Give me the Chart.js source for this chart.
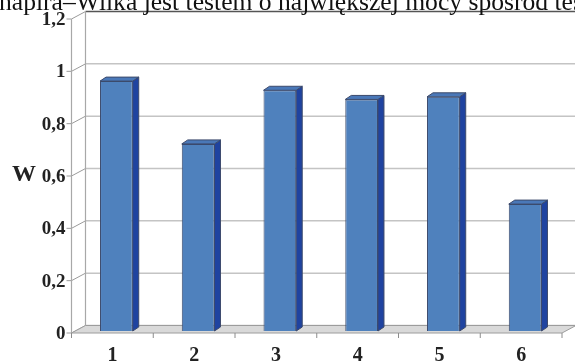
<!DOCTYPE html>
<html lang="pl">
<head>
  <meta charset="UTF-8">
  <title>W – wykres słupkowy</title>
  <style>
    html, body {
      margin: 0;
      padding: 0;
      background: #ffffff;
    }
    #wrap {
      position: relative;
      width: 575px;
      height: 363px;
      overflow: hidden;
    }
  </style>
</head>
<body>
  <div id="wrap">
    <canvas id="chart"></canvas>
  </div>

  <script src="https://cdn.jsdelivr.net/npm/chart.js"></script>
  <script>
    // data
    const categories = ['1', '2', '3', '4', '5', '6'];
    const wValues = [0.955, 0.715, 0.92, 0.885, 0.895, 0.485];
    const yTicks = [0, 0.2, 0.4, 0.6, 0.8, 1, 1.2];
    const headerText = 'napira–Wilka jest testem o największej mocy spośród testów';
    const axisTitle = 'W';

    // 3d look: offsets from the bar plane
    const FRONT = { x: -4, y: 2 };
    const BACK = { x: 10, y: -5.5 };
    const BAR_DEPTH = { x: 6, y: -4 };

    function fmtTick(v) {
      const r = Math.round(v * 10) / 10;
      if (r === 0 || r === 1) return String(r);
      return r.toFixed(1).replace('.', ',');
    }

    const pseudo3d = {
      id: 'pseudo3d',
      beforeDatasetsDraw(chart) {
        const ctx = chart.ctx;
        const xs = chart.scales.x;
        const ys = chart.scales.y;
        const y0 = ys.getPixelForValue(0);
        const yTop = ys.getPixelForValue(yTicks[yTicks.length - 1]);
        const catW = (xs.right - xs.left) / categories.length;
        const fLeft = xs.left + FRONT.x, fRight = xs.right + FRONT.x;
        const bLeft = xs.left + BACK.x;
        const W = chart.width;

        ctx.save();
        // back wall gridlines + side wall ticks
        yTicks.forEach((v, i) => {
          const y = ys.getPixelForValue(v);
          const isTop = i === yTicks.length - 1;
          ctx.lineWidth = 1.5;
          ctx.strokeStyle = isTop ? '#555555' : '#c4c4c4';
          ctx.beginPath();
          ctx.moveTo(bLeft, y + BACK.y);
          ctx.lineTo(W, y + BACK.y);
          ctx.stroke();
          ctx.strokeStyle = '#9a9a9a';
          ctx.lineWidth = 1;
          ctx.beginPath();
          ctx.moveTo(fLeft - 5, y + FRONT.y);
          ctx.lineTo(fLeft, y + FRONT.y);
          ctx.lineTo(bLeft, y + BACK.y);
          ctx.stroke();
        });

        // left wall verticals
        ctx.strokeStyle = '#a8a8a8';
        ctx.lineWidth = 1.2;
        ctx.beginPath();
        ctx.moveTo(bLeft, y0 + BACK.y);
        ctx.lineTo(bLeft, yTop + BACK.y);
        ctx.moveTo(fLeft, y0 + FRONT.y);
        ctx.lineTo(fLeft, yTop + FRONT.y);
        ctx.stroke();

        // floor
        ctx.fillStyle = '#d9d9d9';
        ctx.strokeStyle = '#9c9c9c';
        ctx.lineWidth = 1;
        ctx.beginPath();
        ctx.moveTo(fLeft, y0 + FRONT.y);
        ctx.lineTo(fRight, y0 + FRONT.y);
        ctx.lineTo(xs.right + BACK.x, y0 + BACK.y);
        ctx.lineTo(bLeft, y0 + BACK.y);
        ctx.closePath();
        ctx.fill();
        ctx.stroke();

        // category ticks on the front edge
        ctx.strokeStyle = '#8c8c8c';
        ctx.beginPath();
        for (let i = 0; i <= categories.length; i++) {
          const x = fLeft + i * catW;
          ctx.moveTo(x, y0 + FRONT.y);
          ctx.lineTo(x, y0 + FRONT.y + 5);
        }
        ctx.stroke();
        ctx.restore();
      },
      afterDatasetsDraw(chart) {
        const ctx = chart.ctx;
        const meta = chart.getDatasetMeta(0);
        ctx.save();
        ctx.lineWidth = 1;
        ctx.strokeStyle = '#3c4a6c';
        meta.data.forEach(bar => {
          const p = bar.getProps(['x', 'y', 'base', 'width'], true);
          const l = p.x - p.width / 2, r = p.x + p.width / 2;
          // side face
          ctx.fillStyle = '#1f43a0';
          ctx.beginPath();
          ctx.moveTo(r, p.y);
          ctx.lineTo(r + BAR_DEPTH.x, p.y + BAR_DEPTH.y);
          ctx.lineTo(r + BAR_DEPTH.x, p.base + BAR_DEPTH.y);
          ctx.lineTo(r, p.base);
          ctx.closePath();
          ctx.fill();
          ctx.stroke();
          // top face
          ctx.fillStyle = '#4a78b8';
          ctx.beginPath();
          ctx.moveTo(l, p.y);
          ctx.lineTo(l + BAR_DEPTH.x, p.y + BAR_DEPTH.y);
          ctx.lineTo(r + BAR_DEPTH.x, p.y + BAR_DEPTH.y);
          ctx.lineTo(r, p.y);
          ctx.closePath();
          ctx.fill();
          ctx.stroke();
        });
        ctx.restore();
      },
      afterDraw(chart) {
        const ctx = chart.ctx;
        const ys = chart.scales.y;
        ctx.save();
        ctx.fillStyle = '#111111';
        ctx.font = "25.6px 'Liberation Serif'";
        ctx.textBaseline = 'alphabetic';
        ctx.fillText(headerText, -1, 10);

        ctx.font = "bold 24px 'Liberation Serif'";
        ctx.fillStyle = '#222222';
        ctx.textBaseline = 'middle';
        ctx.fillText(axisTitle, 12, ys.getPixelForValue(0.6) + 1);
        ctx.restore();
      }
    };

    new Chart(document.getElementById('chart'), {
      type: 'bar',
      data: {
        labels: categories,
        datasets: [{
          data: wValues,
          backgroundColor: '#4f81bd',
          borderColor: '#3c4a6c',
          borderWidth: 1,
          barPercentage: 0.4,
          categoryPercentage: 1
        }]
      },
      plugins: [pseudo3d],
      options: {
        responsive: true,
        maintainAspectRatio: false,
        animation: false,
        layout: { padding: { top: 17, right: 9, left: 0, bottom: 0 } },
        plugins: {
          legend: { display: false },
          tooltip: { enabled: false }
        },
        scales: {
          x: {
            grid: { display: false },
            border: { display: false },
            ticks: {
              color: '#222222',
              font: { family: "'Liberation Serif'", size: 20, weight: 'bold' },
              padding: 5,
              labelOffset: -4,
              maxRotation: 0
            },
            afterFit(scale) { scale.height = 32; }
          },
          y: {
            min: 0,
            max: 1.2,
            grid: { display: false },
            border: { display: false },
            afterBuildTicks(scale) {
              scale.ticks = yTicks.map(v => ({ value: v }));
            },
            ticks: {
              color: '#222222',
              font: { family: "'Liberation Serif'", size: 19, weight: 'bold' },
              padding: 2,
              labelOffset: 3,
              callback: v => fmtTick(v)
            },
            afterFit(scale) { scale.width = 75.5; }
          }
        }
      }
    });
  </script>
</body>
</html>
